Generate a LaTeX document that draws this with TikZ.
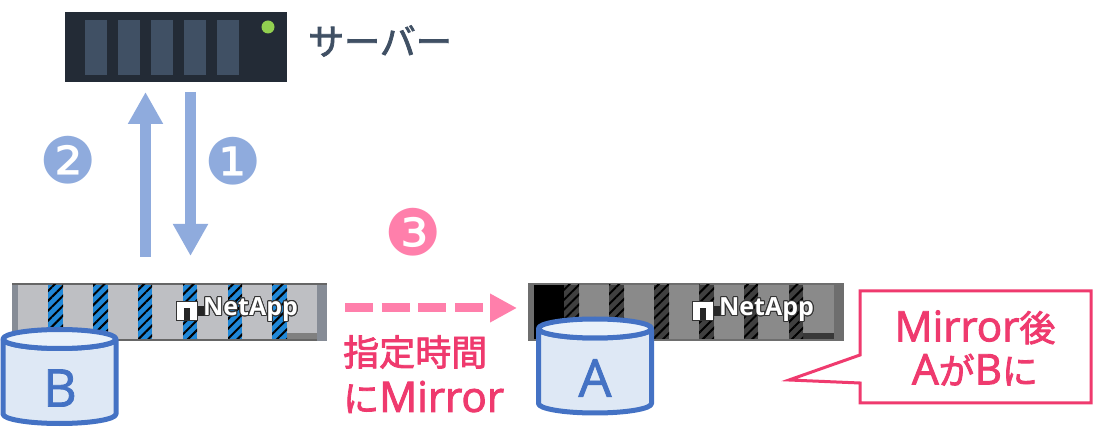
\documentclass[tikz,border=0pt]{standalone}
\usepackage{fontspec}
\usepackage[copies]{contour}
\usetikzlibrary{arrows.meta,patterns.meta}
\setmainfont{Open Sans}
\newfontfamily\jpfont{Noto Sans CJK JP}[FakeBold=2.2]
\newfontfamily\latfont{Open Sans}[Scale=1.17,FakeBold=2.2]
\newfontfamily\bigfont{Open Sans}[FakeBold=1.6]
\newfontfamily\dingfont{DejaVu Sans}
\definecolor{srvdark}{HTML}{232B36}
\definecolor{srvbar}{HTML}{405064}
\definecolor{srvled}{HTML}{92D050}
\definecolor{flowblue}{HTML}{8FABDD}
\definecolor{flowpink}{HTML}{FF7FAB}
\definecolor{notered}{HTML}{EF3A6E}
\definecolor{dbblue}{HTML}{4472C4}
\definecolor{dbbody}{HTML}{DEE8F5}
\definecolor{dbtop}{HTML}{E9F1FA}
\definecolor{barblue}{HTML}{2088D8}
\definecolor{caseside}{HTML}{868C96}
\definecolor{casefront}{HTML}{BEBFC3}
\tikzset{
  flow/.style={line width=11pt,flowblue,-{Triangle[length=32pt,width=33pt]}},
  num/.style={inner sep=0pt,font=\dingfont\fontsize{64}{64}\selectfont},
  note/.style={inner sep=0pt,align=center,text=notered,font=\jpfont\fontsize{36}{43}\selectfont},
  dbtext/.style={inner sep=0pt,text=dbblue,font=\bigfont\fontsize{52}{52}\selectfont},
  dbline/.style={draw=dbblue,line width=5pt,line join=round},
  logo/.style={inner sep=0pt,text=white,font=\bfseries\fontsize{25}{25}\selectfont},
  hatch/.style={pattern={Lines[angle=45,distance=7pt,line width=2pt]},pattern color=black}
}
\contourlength{1pt}
\contournumber{16}
\begin{document}
\begin{tikzpicture}[x=1pt,y=-1pt]
  \useasboundingbox (0,0) rectangle (1093,438);
  % server
  \fill[srvdark] (65,12) rectangle (287,82);
  \foreach \x in {85,118,151,184,217}
    \fill[srvbar] (\x,20) rectangle ++(22,55);
  \fill[srvled] (268,27) circle (6.5);
  \node[inner sep=0pt,text=srvbar,font=\jpfont\fontsize{36}{36}\selectfont] (srvlabel) at (380,41) {サーバー};
  \coordinate (upS) at (145.5,257);
  \coordinate (upE) at (145.5,92);
  \coordinate (downS) at (190.5,92);
  \coordinate (downE) at (190.5,256);
  \draw[flow] (upS) -- (upE);
  \draw[flow] (downS) -- (downE);
  \node[num,text=flowblue] (two) at (68,160) {❷};
  \node[num,text=flowblue] (one) at (233,161) {❶};
  \node[num,text=flowpink] (three) at (413,232) {❸};
  % storage B
  \fill[caseside] (12,283) rectangle (327,341);
  \fill[black!60] (12,283) rectangle (327,285);
  \fill[black!60] (18,339) rectangle (317,341);
  \fill[casefront] (18,285) rectangle (317,339);
  \fill[black!50] (287,333) rectangle (317,339);
  \foreach \x/\w in {48/15,93/15,138/14,183/14,228/14,272/15} {
    \fill[barblue] (\x,285) rectangle ++(\w,54);
    \fill[hatch] (\x,285) rectangle ++(\w,54);
  }
  \fill[black!85] (195,306) rectangle (206,316);
  \fill[white,draw=black!80] (176,301) rectangle (197,320);
  \fill[black!85] (184,308) rectangle (190,320);
  \node[logo] (logoB) at (250.5,310) {\contour{black!80}{NetApp}};
  % storage A
  \fill[black!57] (528,283) rectangle (844,341);
  \fill[black!46] (534,285) rectangle (834,339);
  \fill[black] (534,285) rectangle (564,339);
  \fill[black!78] (803,333) rectangle (834,339);
  \foreach \x/\w in {564/15,609/15,654/15,699/15,744/14,789/14} {
    \fill[black!75] (\x,285) rectangle ++(\w,54);
    \fill[hatch] (\x,285) rectangle ++(\w,54);
  }
  \fill[black!85] (711,306) rectangle (722,316);
  \fill[white,draw=black!80] (692,301) rectangle (713,320);
  \fill[black!85] (700,308) rectangle (706,320);
  \node[logo] (logoA) at (766.5,310) {\contour{black!80}{NetApp}};
  % databases
  \draw[dbline,fill=dbbody] (3,339) -- (3,414) arc[start angle=180,end angle=0,x radius=56.5,y radius=9.5] -- (116,339) arc[start angle=0,end angle=180,x radius=56.5,y radius=9.5] -- cycle;
  \draw[dbline,fill=dbtop] (59.5,339) ellipse (56.5 and 9.5);
  \node[dbtext] (dbB) at (60,388) {B};
  \draw[dbline,fill=dbbody] (538.5,328.5) -- (538.5,403.5) arc[start angle=180,end angle=0,x radius=56.5,y radius=9.5] -- (651.5,328.5) arc[start angle=0,end angle=180,x radius=56.5,y radius=9.5] -- cycle;
  \draw[dbline,fill=dbtop] (595,328.5) ellipse (56.5 and 9.5);
  \node[dbtext] (dbA) at (595,378) {A};
  % mirror
  \coordinate (mirS) at (345,308);
  \coordinate (mirE) at (517,308);
  \draw[flowpink,line width=9pt,dash pattern=on 28pt off 8.6pt,-{Triangle[length=27pt,width=27pt]}] (mirS) -- (mirE);
  \node[note,anchor=west] (when) at (343,352) {指定時間};
  \node[note,anchor=west] (when2) at (343,397) {に{\latfont Mirror}};
  % callout
  \draw[notered,line width=3pt,fill=white] (860,291) -- (1091,291) -- (1091,403) -- (860,403) -- (860,383) -- (789,380) -- (860,355) -- cycle;
  \node[note] (after) at (975,348) {{\latfont Mirror}後\\{\latfont A}が{\latfont B}に};
\end{tikzpicture}
\end{document}
